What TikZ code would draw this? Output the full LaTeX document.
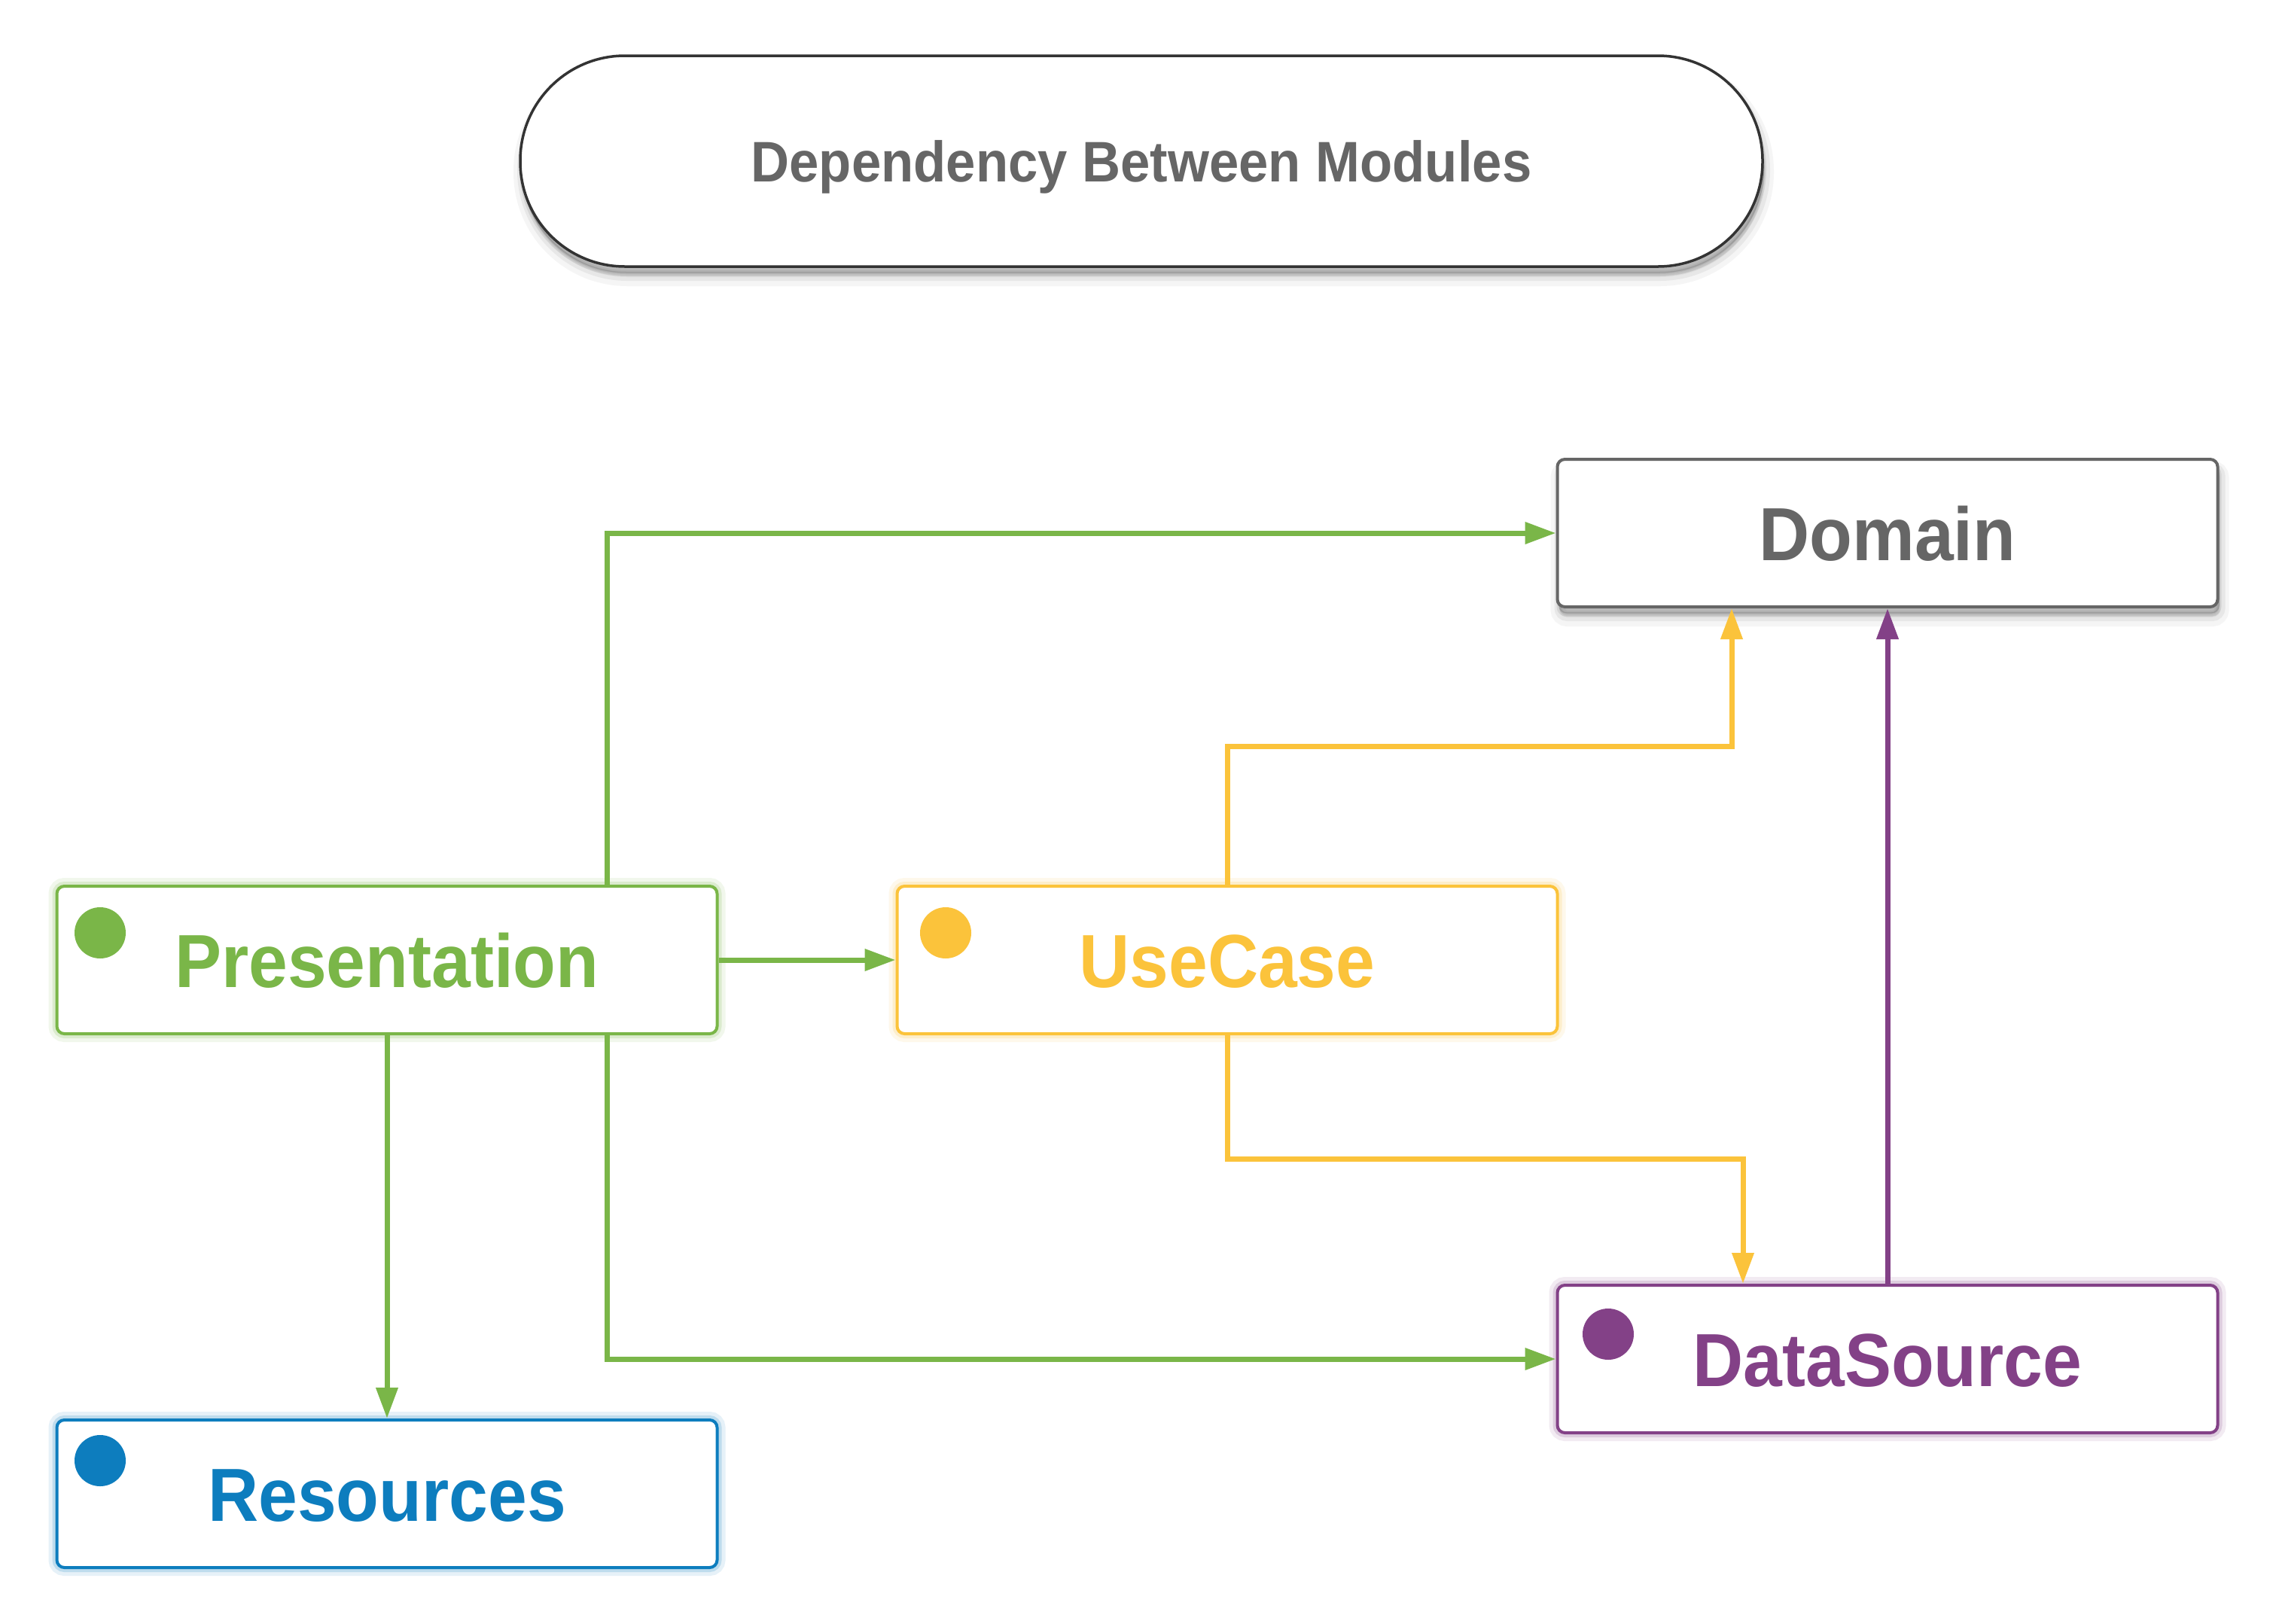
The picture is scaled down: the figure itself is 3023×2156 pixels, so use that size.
\documentclass[tikz,border=0pt]{standalone}
\usepackage{fontspec}
\setmainfont{Liberation Sans}[FakeStretch=0.93]
\usetikzlibrary{arrows.meta,shadows}
\definecolor{gcol}{HTML}{7AB648}
\definecolor{ycol}{HTML}{FBC33B}
\definecolor{pcol}{HTML}{834187}
\definecolor{bcol}{HTML}{0D7DBE}
\definecolor{tgray}{HTML}{666666}
\definecolor{dgray}{HTML}{333333}
\tikzset{
  softshadow/.style={
    general shadow={fill=black!70, draw=black!70, line width=24pt, opacity=0.05, shadow xshift=3pt, shadow yshift=-14pt},
    general shadow={fill=black!70, draw=black!70, line width=14pt, opacity=0.08, shadow xshift=3pt, shadow yshift=-12pt},
    general shadow={fill=black!70, draw=black!70, line width=6pt, opacity=0.12, shadow xshift=2pt, shadow yshift=-10pt},
    general shadow={fill=black!70, draw=black!70, line width=1pt, opacity=0.15, shadow xshift=2pt, shadow yshift=-8pt}},
  glow/.style={
    preaction={draw=#1, draw opacity=0.10, line width=22pt},
    preaction={draw=#1, draw opacity=0.18, line width=12pt}},
  titlebox/.style={draw=dgray, line width=3.5pt, fill=white, rounded corners=139pt,
    minimum width=1650pt, minimum height=280pt, inner sep=0pt, text=tgray,
    font=\bfseries\fontsize{76}{90}\selectfont, text height=54pt, text depth=0pt},
  modbox/.style={draw=#1, line width=4pt, fill=white, rounded corners=10pt,
    minimum width=877pt, minimum height=196pt, inner sep=0pt, text=#1,
    font=\bfseries\fontsize{100}{120}\selectfont, text height=72pt, text depth=0pt},
  dot/.style={circle, fill=#1, minimum size=68pt, inner sep=0pt},
  conn/.style={draw=#1, line width=7pt, -{Triangle[length=41pt,width=28pt]}},
}
\begin{document}
\begin{tikzpicture}[x=1pt,y=-1pt]
\useasboundingbox[fill=white] (0,0) rectangle (3023,2156);

\node[titlebox, softshadow] (title) at (1516,214) {Dependency Between Modules};

\node[modbox=tgray, softshadow] (dom) at (2507,708) {Domain};
\node[modbox=gcol, glow=gcol] (pres) at (514,1275) {Presentation};
\node[modbox=ycol, glow=ycol] (use) at (1630,1275) {UseCase};
\node[modbox=pcol, glow=pcol] (ds) at (2507,1805) {DataSource};
\node[modbox=bcol, glow=bcol] (res) at (514,1984) {Resources};

\node[dot=gcol] (pdot) at (133,1239) {};
\node[dot=ycol] (udot) at (1256,1239) {};
\node[dot=pcol] (ddot) at (2136,1772) {};
\node[dot=bcol] (rdot) at (133,1940) {};

\coordinate (pX) at (806,0);
\coordinate (uTopY) at (0,991);
\coordinate (uBotY) at (0,1539);
\coordinate (xA) at (2300,0);
\coordinate (xB) at (2315,0);

\draw[conn=gcol] (pX |- pres.north) |- (dom.west);
\draw[conn=gcol] (pres.east) -- (use.west);
\draw[conn=gcol] (pres.south) -- (res.north);
\draw[conn=gcol] (pX |- pres.south) |- (ds.west);
\draw[conn=ycol] (use.north) -- (use.north |- uTopY) -- (xA |- uTopY) -- (xA |- dom.south);
\draw[conn=ycol] (use.south) -- (use.south |- uBotY) -- (xB |- uBotY) -- (xB |- ds.north);
\draw[conn=pcol] (ds.north) -- (dom.south);
\end{tikzpicture}
\end{document}
